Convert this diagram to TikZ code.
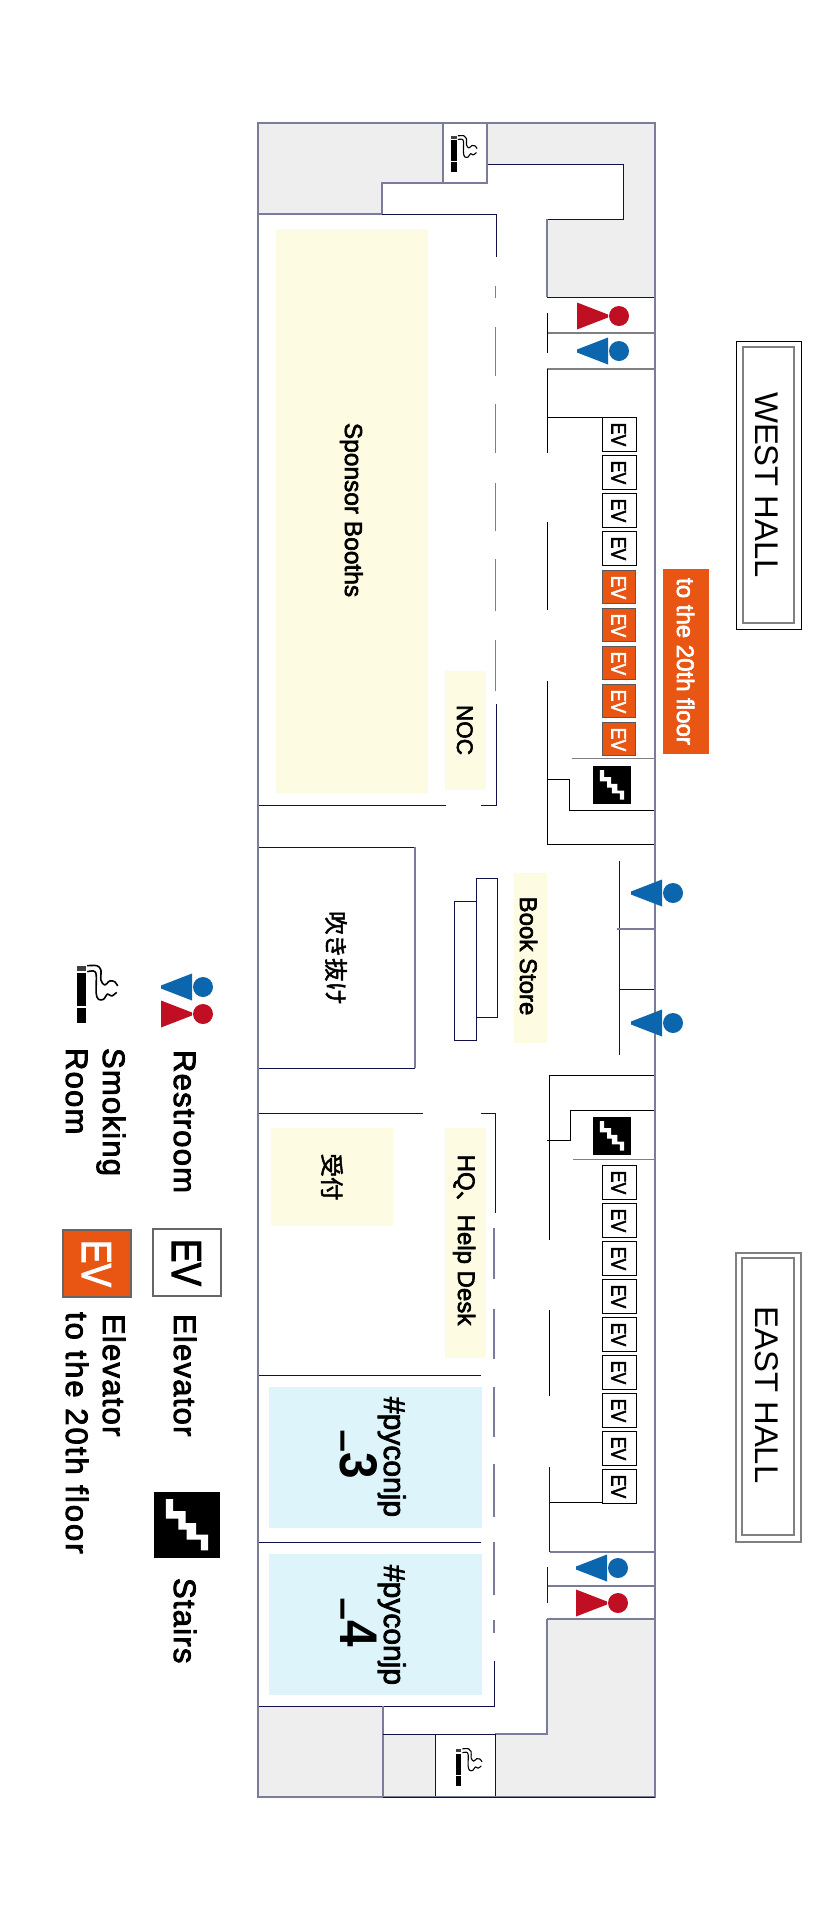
\documentclass[tikz,border=0pt]{standalone}
\usepackage{fontspec}
\setmainfont[FakeBold=2.6]{Liberation Sans}
\newfontfamily\cjk[FakeBold=2]{Noto Sans CJK JP}
\newfontfamily\legendfont[LetterSpace=4,FakeBold=2.8]{Liberation Sans}
\newfontfamily\legendwide[LetterSpace=6.5,FakeBold=2.8]{Liberation Sans}
\newfontfamily\hallfont{Liberation Sans}
\newfontfamily\heavyfont{Liberation Sans Bold}
\newcommand{\fs}[1]{\fontsize{#1}{#1}\selectfont}
\definecolor{wallc}{HTML}{10104A}
\definecolor{slatec}{HTML}{7A7C9A}
\definecolor{greyc}{HTML}{EEEEEE}
\definecolor{yellowc}{HTML}{FEFBE3}
\definecolor{cyanc}{HTML}{DDF5FA}
\definecolor{orangec}{HTML}{E95513}
\definecolor{redc}{HTML}{C00F23}
\definecolor{bluec}{HTML}{0B66AE}
\tikzset{
  x=1pt,y=-1pt,
  wall/.style={draw=wallc,line width=0.9pt},
  slate/.style={draw=slatec,line width=1.2pt},
  blk/.style={draw=black,line width=0.9pt},
  gr/.style={draw=gray,line width=1.2pt},
  lbl/.style={rotate=-90,anchor=base,inner sep=0pt,outer sep=0pt,font=\fs{24}},
  lgd/.style={rotate=-90,anchor=base west,inner sep=0pt,outer sep=0pt,font=\legendfont\fs{31}},
  cjklbl/.style={rotate=-90,anchor=center,inner sep=0pt,outer sep=0pt,font=\cjk\fs{23.5}},
  evw/.style={rotate=-90,anchor=base,inner sep=0pt,outer sep=0pt,font=\fs{21}},
}
% EV box: top y, white or orange
\newcommand{\evwhite}[3]{%
  \draw[blk,fill=white] (#1,#2) rectangle (#1+34,#2+34);
  \node[evw] (#3) at (#1+9.5,#2+17.5) {\scalebox{.84}[1]{EV}};}
\newcommand{\evorange}[3]{%
  \draw[draw=gray!70!black,line width=0.8pt,fill=orangec] (#1,#2) rectangle (#1+33.5,#2+33.5);
  \node[evw,text=white] (#3) at (#1+9.5,#2+17.5) {\scalebox{.84}[1]{EV}};}
% stair icon: x y size
\newcommand{\stairicon}[3]{%
  \begin{scope}[shift={(#1,#2)},scale=#3/100]
    \fill[black] (0,0) rectangle (100,100);
    \fill[white] (18,10.6)--(29,10.6)--(29,29)--(48,29)--(48,47)--(64,47)--(64,64.6)--(82,64.6)--(82,88.4)--(71,88.4)--(71,72)--(49.5,72)--(49.5,57)--(37,57)--(37,40.4)--(18,40.4)--cycle;
  \end{scope}}
% smoking icon: x y scale linewidth
\newcommand{\smokeicon}[4]{%
  \begin{scope}[shift={(#1,#2)},scale=#3]
    \fill[black!75] (0,0) rectangle (9,4.5);
    \fill[black] (0,7) rectangle (9,40);
    \fill[black] (0,42) rectangle (9,57);
    \draw[black,line width=#4,line join=round] plot[smooth,tension=.55] coordinates {(10.5,-.3)(20.2,-.3)(24.2,4)(24.2,14)(28,19)(33,15)(38,15.7)(41,20)};
    \draw[black,line width=#4,line join=round] plot[smooth,tension=.55] coordinates {(10.5,5.7)(16.8,5)(19.5,9)(19.5,27)(21.8,33.3)(26.8,33.3)(30.8,28)(35,30)(40,26.3)};
  \end{scope}}
% toilets: blue apex at x, red base at x
\newcommand{\bluet}[2]{%
  \fill[bluec] (#1,#2-1.5)--(#1+31,#2-13.5)--(#1+31,#2+13.5)--(#1,#2+1.5)--cycle;
  \fill[bluec] (#1+42,#2) circle[radius=10];}
\newcommand{\redt}[2]{%
  \fill[redc] (#1,#2-13.5)--(#1+31,#2-1.5)--(#1+31,#2+1.5)--(#1,#2+13.5)--cycle;
  \fill[redc] (#1+42,#2) circle[radius=10];}
\newcommand{\bigund}{\raisebox{10pt}{\scalebox{1.1}[1.5]{\fs{30}\_}}}
\begin{document}
\begin{tikzpicture}
\useasboundingbox (0,0) rectangle (836,1920);
\fill[white] (0,0) rectangle (836,1920);
% grey areas
\fill[greyc] (258,123)--(443,123)--(443,183)--(382,183)--(382,214)--(258,214)--cycle;
\fill[greyc] (487,123)--(655,123)--(655,297)--(547,297)--(547,219)--(623,219)--(623,164)--(487,164)--cycle;
\fill[greyc] (258,1706)--(383,1706)--(383,1797)--(258,1797)--cycle;
\fill[greyc] (383,1734)--(435,1734)--(435,1797)--(383,1797)--cycle;
\fill[greyc] (495,1734)--(547,1734)--(547,1619)--(655,1619)--(655,1797)--(495,1797)--cycle;
% coloured areas
\fill[yellowc] (276,229) rectangle (428,793);
\fill[yellowc] (445,671) rectangle (486,790);
\fill[yellowc] (514,873) rectangle (547,1043);
\fill[yellowc] (271,1128) rectangle (393,1226);
\fill[yellowc] (445,1128) rectangle (486,1358);
\fill[cyanc] (269,1387) rectangle (482,1528);
\fill[cyanc] (269,1554) rectangle (482,1695);
\fill[orangec] (663,569) rectangle (709,754);
% top walls
\draw[slate] (443,123)--(443,183)--(382,183)--(382,214)--(258,214);
\draw[slate] (487,123)--(487,183)--(443,183);
\draw[wall] (487,164)--(623,164)--(623,219)--(547,219);
\draw[slate] (547,219)--(547,297);
\draw[wall] (547,297)--(655,297);
\draw[wall] (382,214)--(496,214)--(496,257);
\foreach \a/\b in {286/298,327/376,404/453,483/531,559/611,640/691}
  \draw[slate,line width=0.9pt] (495.3,\a)--(495.3,\b);
\draw[wall] (496,704)--(496,805)--(481,805);
\draw[wall] (446,805)--(258,805);
% west restrooms
\draw[gr] (547,333)--(655,333);
\draw[gr] (547,369)--(655,369);
\draw[blk] (547.5,313)--(547.5,353);
\draw[blk] (547,369)--(547,453);
\draw[blk] (547,522)--(547,610);
\draw[blk] (547,681)--(547,844)--(655,844);
\draw[blk] (547,417)--(602,417);
\draw[blk] (547,779)--(569,779)--(569,810)--(655,810);
\draw[gr,line width=0.9pt] (572,758)--(655,758);
% centre
\draw[wall] (258,847)--(415,847);
\draw[slate] (415,847)--(415,1068);
\draw[wall] (415,1068)--(258,1068);
\draw[wall] (476,878) rectangle (497,1017);
\draw[wall] (454,901) rectangle (476,1040);
\draw[wall] (619,861)--(619,1055);
\draw[gr,draw=slatec] (617,929)--(655,929);
\draw[wall] (619,989)--(655,989);
% east block
\draw[blk] (655,1075)--(549,1075)--(549,1240);
\draw[blk] (549,1310)--(549,1396);
\draw[wall] (549.5,1467)--(549.5,1552);
\draw[slate] (549.5,1552)--(655,1552);
\draw[blk] (549.5,1502)--(602,1502);
\draw[blk] (655,1110)--(570,1110)--(570,1140)--(547,1140);
\draw[gr,line width=0.9pt] (573,1159)--(655,1159);
% lower walls
\draw[wall] (258,1113)--(423,1113);
\draw[wall] (481,1113)--(495,1113)--(495,1213);
\foreach \a/\b in {1228/1279,1309/1359,1387/1437,1464/1517,1542/1595,1620/1633}
  \draw[slate] (494,\a)--(494,\b);
\draw[wall] (494.5,1661)--(494.5,1706)--(258,1706);
\draw[wall] (258,1375)--(481,1375);
\draw[wall] (258,1542)--(481,1542);
% east restrooms
\draw[slate] (547,1586)--(655,1586);
\draw[wall] (547,1567)--(547,1603);
\draw[slate] (547,1619)--(655,1619);
\draw[slate] (547,1619)--(547,1734)--(495,1734);
% bottom walls
\draw[slate] (383,1706)--(383,1797);
\draw[wall] (383,1734)--(495,1734);
\draw[wall] (435,1734)--(435,1797);
\draw[wall] (495,1734)--(495,1797);
% outer border
\draw[slate] (258,123) rectangle (655,1797);
\draw[wall] (383,1797)--(655,1797);
\draw[slate] (443,123)--(443,183)--(487,183)--(487,123);
% EV boxes west
\foreach \y [count=\i] in {417,455,493,531} {\evwhite{602}{\y}{evw\i}}
\foreach \y [count=\i] in {570,608,646,684,722} {\evorange{602}{\y}{evo\i}}
% EV boxes east
\foreach \y [count=\i] in {1165,1203,1241,1279,1317,1355,1393,1431,1469} {\evwhite{602}{\y}{eve\i}}
% stairs
\stairicon{593}{766}{38}
\stairicon{593}{1117}{38}
\stairicon{154}{1492}{66}
% smoking icons
\smokeicon{451.2}{136}{.63}{1.1pt}
\smokeicon{455.7}{1749}{.64}{1.1pt}
\smokeicon{76.7}{966}{1}{1.6pt}
% toilets
\redt{577}{316}
\bluet{577}{351}
\bluet{631}{893}
\bluet{631}{1023}
\bluet{576}{1568}
\redt{576}{1603}
\bluet{161}{987}
\redt{161}{1014}
% labels
\node[lbl,font=\fs{24.5}] (sponsor) at (345,510) {Sponsor Booths};
\node[lbl,font=\fs{22.5}] (noc) at (457,730) {NOC};
\node[lbl] (book) at (520,956) {Book Store};
\node[lbl] (hq) at (458,1240) {HQ{\cjk 、}Help Desk};
\node[cjklbl] (void) at (336,958) {吹き抜け};
\node[cjklbl] (recept) at (332,1177) {受付};
\node[lbl,font=\fs{30}] (py3a) at (384,1457) {\#pyconjp};
\node[lbl] (py3b) at (340,1455.5) {\bigund\kern3pt{\heavyfont\fs{53}\scalebox{.9}[1]{3}}};
\node[lbl,font=\fs{30}] (py4a) at (384,1625) {\#pyconjp};
\node[lbl] (py4b) at (340,1623.5) {\bigund\kern3pt{\heavyfont\fs{53}\scalebox{.9}[1]{4}}};
\node[lbl,text=white,font=\fs{24}] (twentieth) at (677,661.5) {to the 20th floor};
% halls
\draw[draw=black,line width=1pt] (736,341) rectangle (801,629);
\draw[gr] (743,347) rectangle (794,623);
\node[lbl,font=\hallfont\fs{32.8}] (west) at (755,485) {WEST HALL};
\draw[gr] (736,1253) rectangle (801,1542);
\draw[gr] (742,1258) rectangle (794,1535);
\node[lbl,font=\hallfont\fs{32.8}] (east) at (755,1395) {EAST HALL};
% legend
\node[lgd] (lrest) at (174,1050) {Restroom};
\node[lgd] (lsmoke1) at (103,1048) {Smoking};
\node[lgd] (lsmoke2) at (66,1048) {Room};
\draw[gr,draw=black!60,fill=white] (153,1229) rectangle (221,1296);
\node[lbl,font=\fs{42}] (levw) at (172,1262.5) {\scalebox{.84}[1]{EV}};
\draw[gr,draw=black!60,fill=orangec] (63,1230) rectangle (131,1297);
\node[lbl,font=\fs{42},text=white] (levo) at (82,1263.5) {\scalebox{.84}[1]{EV}};
\node[lgd] (lelev) at (174,1314) {Elevator};
\node[lgd] (lelev2) at (103,1314) {Elevator};
\node[lgd,font=\legendwide\fs{31}] (lto) at (66,1312) {to the 20th floor};
\node[lgd] (lstairs) at (174,1578) {Stairs};
\end{tikzpicture}
\end{document}
